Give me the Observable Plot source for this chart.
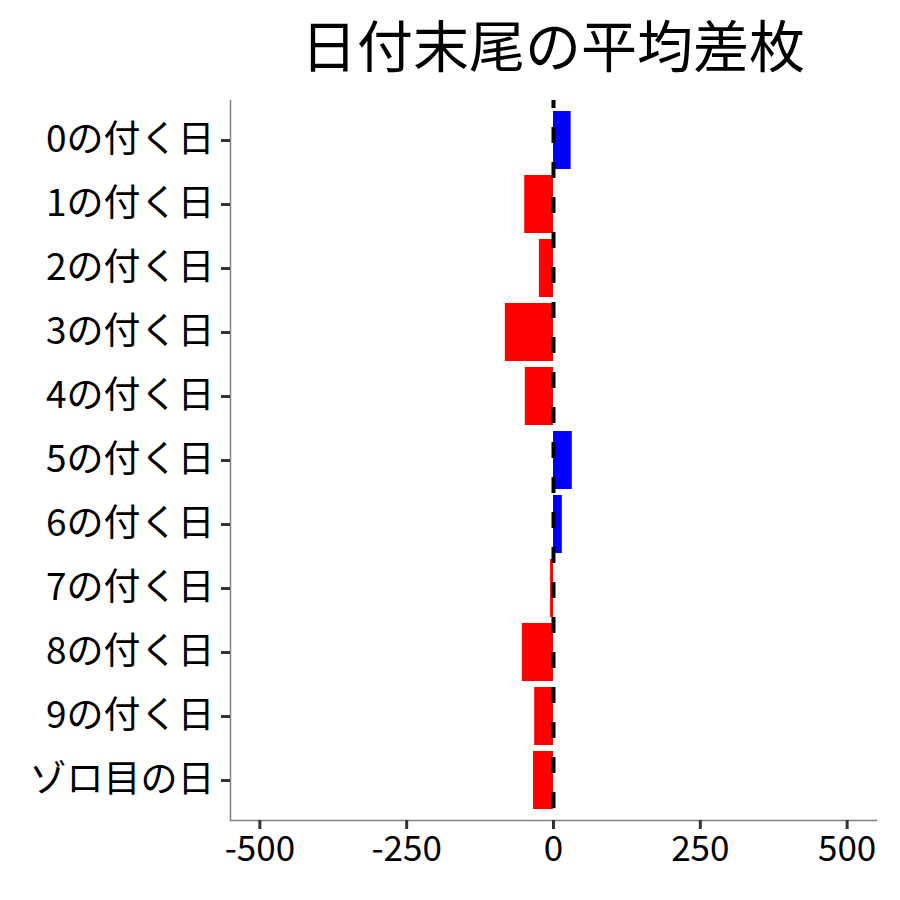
<!DOCTYPE html>
<html>
<head>
<meta charset="utf-8">
<script src="https://cdn.jsdelivr.net/npm/d3@7"></script>
<script src="https://cdn.jsdelivr.net/npm/@observablehq/plot@0.6"></script>
<style>
  body { margin: 0; background: #fff; font-family: "Noto Sans CJK JP", sans-serif; }
  #title { position: relative; height: 100px; width: 900px; }
  #title span { position: absolute; left: 230px; width: 646px; top: 7px; text-align: center; font-size: 56px; line-height: 72px; color: #000; }
</style>
</head>
<body>
<div id="title"><span>日付末尾の平均差枚</span></div>
<div id="chart"></div>
<script>
const categories = ["0の付く日","1の付く日","2の付く日","3の付く日","4の付く日","5の付く日","6の付く日","7の付く日","8の付く日","9の付く日","ゾロ目の日"];
const values = [30, -49, -24, -82, -48, 32, 15, -5, -53, -32, -34];
const xTicks = [-500, -250, 0, 250, 500];

const data = categories.map((c, i) => ({cat: c, v: values[i]}));

const chart = Plot.plot({
  width: 900,
  height: 800,
  marginTop: 0,
  marginBottom: 80,
  marginLeft: 230,
  marginRight: 24,
  style: {fontFamily: "'Noto Sans CJK JP', sans-serif", fontSize: "35px", color: "#000", background: "#fff"},
  x: {domain: [-550, 550], ticks: xTicks, label: null},
  y: {domain: categories, paddingInner: 0.1, paddingOuter: 0.15, label: null},
  marks: [
    Plot.barX(data, {x: "v", y: "cat", fill: d => d.v >= 0 ? "#0000FF" : "#FF0000"}),
    Plot.ruleX([0], {stroke: "black", strokeWidth: 4, strokeDasharray: "16,19", strokeDashoffset: 8}),
    Plot.ruleX([-550], {stroke: "#7f7f7f", strokeWidth: 1.5}),
    Plot.frame({anchor: "bottom", stroke: "#7f7f7f", strokeWidth: 1.5}),
    Plot.axisX({ticks: xTicks, tickFormat: d => String(d), tickSize: 9, tickPadding: 7, stroke: "#333", strokeWidth: 3, fontSize: 35, color: "#000", label: null}),
    Plot.axisY({tickSize: 9, tickPadding: 7, stroke: "#333", strokeWidth: 3, fontSize: 37, color: "#000", label: null})
  ]
});
document.getElementById("chart").appendChild(chart);
</script>
</body>
</html>
